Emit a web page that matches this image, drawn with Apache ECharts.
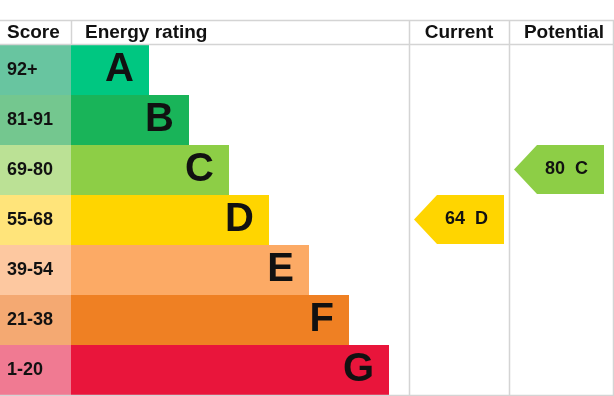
<!DOCTYPE html>
<html><head><meta charset="utf-8">
<script src="https://cdn.jsdelivr.net/npm/echarts@6/dist/echarts.min.js"></script>
<style>html,body{margin:0;padding:0;background:#fff}#c{width:614px;height:396px}</style>
</head><body><div id="c"></div>
<script>
// ---- data ----
var bands = ['A', 'B', 'C', 'D', 'E', 'F', 'G'];
var scoreRanges = ['92+', '81-91', '69-80', '55-68', '39-54', '21-38', '1-20'];
var barLengths = [78, 118, 158, 198, 238, 278, 318];
var bandColors = ['#00c781', '#19b459', '#8dce46', '#ffd500', '#fcaa65', '#ef8023', '#e9153b'];
var scoreColors = ['#68c5a0', '#74c78f', '#bbe195', '#ffe47a', '#fdc8a0', '#f4a972', '#f07a92'];
var currentScore = 64, currentBand = 'D';
var potentialScore = 80, potentialBand = 'C';
var headers = ['Score', 'Energy rating', 'Current', 'Potential'];

// ---- layout ----
var W = 614, H = 396;
var font = 'Arial, "Liberation Sans", sans-serif';
var lineCol = '#d4d4d4';
var colCur = [338, 438];   // axis units of the main grid
var colPot = [438, 538];

var chart = echarts.init(document.getElementById('c'), null, {renderer: 'canvas'});

function arrowItem(colRange) {
  return function (params, api) {
    var band = api.value(0);
    var p0 = api.coord([colRange[0], band]);
    var p1 = api.coord([colRange[1], band]);
    var h = api.size([0, 1])[1];
    var x0 = p0[0] + 5, x1 = p1[0] - 5;
    var yT = p0[1] - h / 2, yB = p0[1] + h / 2 - 1, yM = (yT + yB) / 2;
    var tip = 23;
    return {
      type: 'group',
      children: [{
        type: 'polygon',
        shape: {points: [[x0, yM], [x0 + tip, yT], [x1, yT], [x1, yB], [x0 + tip, yB]]},
        style: {fill: bandColors[band]}
      }, {
        type: 'text',
        style: {
          text: api.value(1) + '  ' + bands[band],
          x: (x0 + tip + x1) / 2 - 4, y: yM,
          align: 'center', verticalAlign: 'middle',
          font: 'bold 18px ' + font, fill: '#111'
        }
      }]
    };
  };
}

var lines = [];
function hl(y, x0, x1) { lines.push({type: 'line', shape: {x1: x0, y1: y + 0.5, x2: x1, y2: y + 0.5}, style: {stroke: lineCol, lineWidth: 1.5}, z: 10}); }
function vl(x, y0, y1) { lines.push({type: 'line', shape: {x1: x + 0.5, y1: y0, x2: x + 0.5, y2: y1}, style: {stroke: lineCol, lineWidth: 1.5}, z: 10}); }
hl(20, 0, W); hl(44, 0, W); hl(395, 0, W);
vl(71, 20, 45); vl(409, 20, 396); vl(509, 20, 396); vl(613, 20, 396);

var hdrStyle = {font: 'bold 19px ' + font, fill: '#111', verticalAlign: 'middle'};
var hdr = [
  {type: 'text', style: Object.assign({text: headers[0], x: 7, y: 33, align: 'left'}, hdrStyle)},
  {type: 'text', style: Object.assign({text: headers[1], x: 85, y: 33, align: 'left'}, hdrStyle)},
  {type: 'text', style: Object.assign({text: headers[2], x: 459, y: 33, align: 'center'}, hdrStyle)},
  {type: 'text', style: Object.assign({text: headers[3], x: 564, y: 33, align: 'center'}, hdrStyle)}
];

chart.setOption({
  animation: false,
  backgroundColor: '#fff',
  grid: [
    {left: 71, right: 1, top: 45, bottom: 1},
    {left: 0, width: 71, top: 45, bottom: 1}
  ],
  xAxis: [
    {gridIndex: 0, type: 'value', min: 0, max: 542, show: false},
    {gridIndex: 1, type: 'value', min: 0, max: 1, show: false}
  ],
  yAxis: [
    {gridIndex: 0, type: 'category', data: bands, inverse: true, show: false},
    {gridIndex: 1, type: 'category', data: bands, inverse: true, show: false}
  ],
  series: [{
    type: 'bar', xAxisIndex: 0, yAxisIndex: 0, barCategoryGap: 0,
    data: barLengths.map(function (v, i) { return {value: v, itemStyle: {color: bandColors[i]}}; }),
    label: {show: true, position: 'insideRight', distance: 15, formatter: function (p) { return bands[p.dataIndex]; },
      fontFamily: font, fontWeight: 'bold', fontSize: 40, color: '#111'}
  }, {
    type: 'bar', xAxisIndex: 1, yAxisIndex: 1, barCategoryGap: 0,
    data: scoreRanges.map(function (s, i) { return {value: 1, itemStyle: {color: scoreColors[i]}}; }),
    label: {show: true, position: 'insideLeft', distance: 7, formatter: function (p) { return scoreRanges[p.dataIndex]; },
      fontFamily: font, fontWeight: 'bold', fontSize: 18, color: '#111'}
  }, {
    type: 'custom', xAxisIndex: 0, yAxisIndex: 0, clip: false,
    data: [[bands.indexOf(currentBand), currentScore]],
    renderItem: arrowItem(colCur)
  }, {
    type: 'custom', xAxisIndex: 0, yAxisIndex: 0, clip: false,
    data: [[bands.indexOf(potentialBand), potentialScore]],
    renderItem: arrowItem(colPot)
  }],
  graphic: lines.concat(hdr)
});
</script></body></html>
